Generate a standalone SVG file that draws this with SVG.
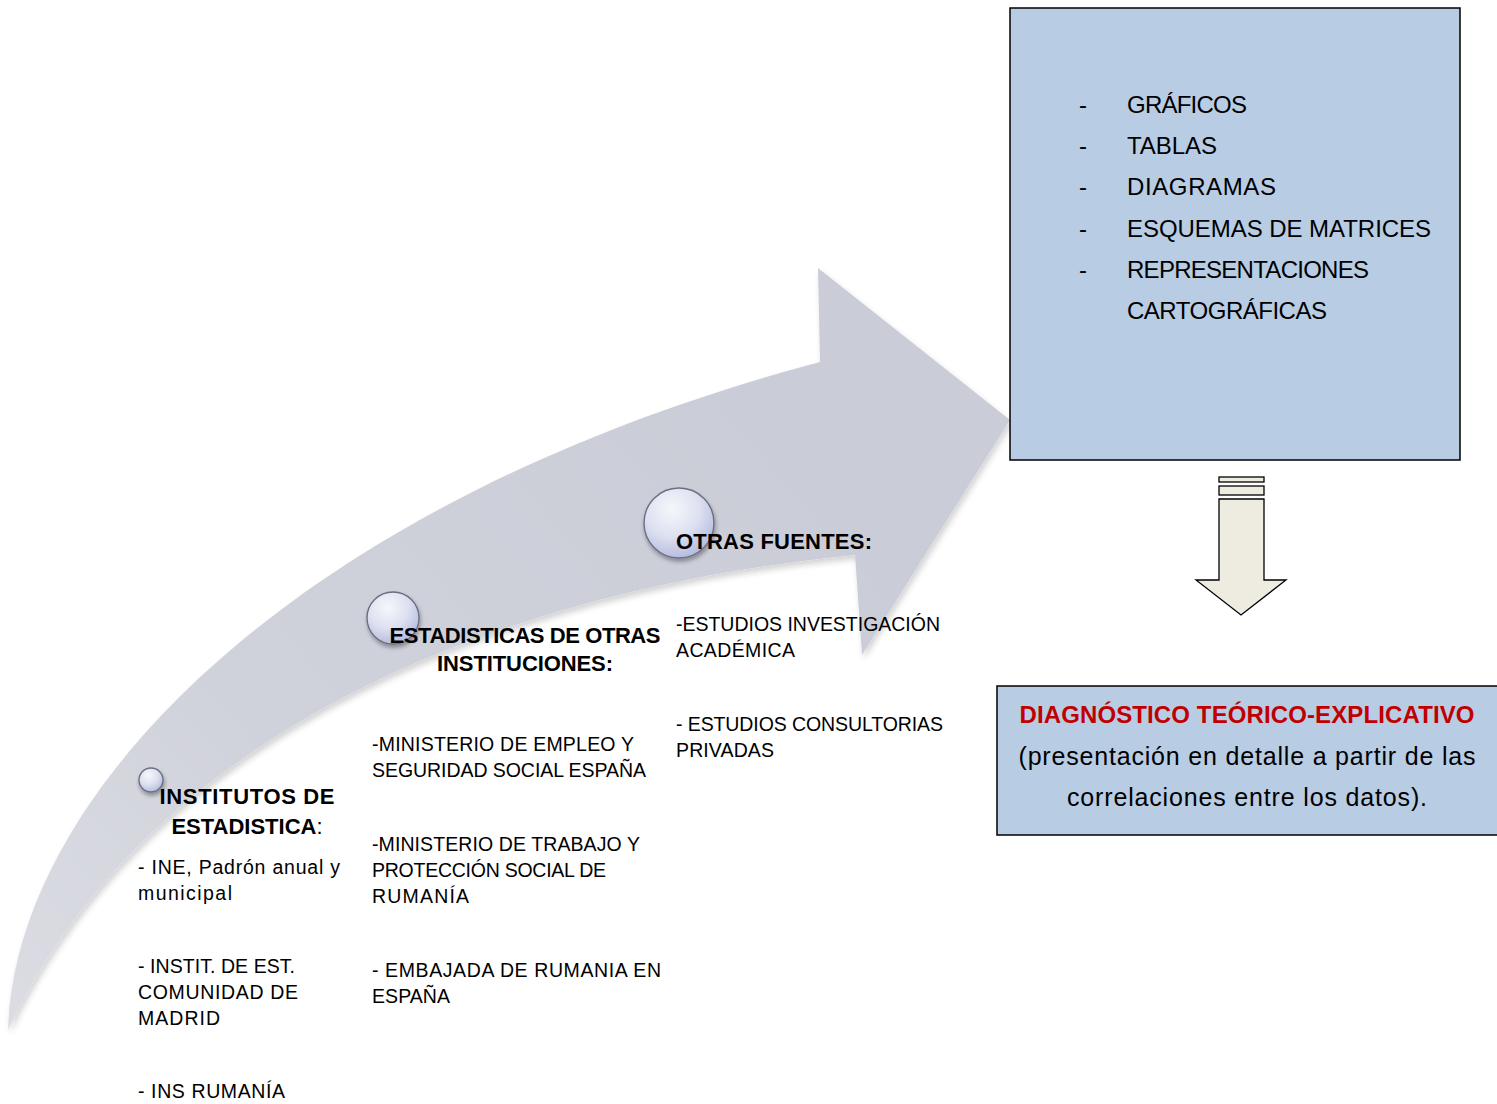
<svg xmlns="http://www.w3.org/2000/svg" width="1497" height="1104" viewBox="0 0 1497 1104">
<defs>
<linearGradient id="arrowGrad" gradientUnits="userSpaceOnUse" x1="0" y1="1040" x2="760" y2="380">
<stop offset="0" stop-color="#dcdde3"/>
<stop offset="0.4" stop-color="#d0d2db"/>
<stop offset="1" stop-color="#cacdd7"/>
</linearGradient>
<radialGradient id="circGrad" cx="0.4" cy="0.3" r="0.8">
<stop offset="0" stop-color="#f6f7fc"/>
<stop offset="0.5" stop-color="#dde0f0"/>
<stop offset="1" stop-color="#aab2da"/>
</radialGradient>
<filter id="sh" x="-30%" y="-30%" width="160%" height="160%">
<feGaussianBlur in="SourceAlpha" stdDeviation="2"/>
<feOffset dx="1" dy="3"/>
<feComponentTransfer><feFuncA type="linear" slope="0.35"/></feComponentTransfer>
<feMerge><feMergeNode/><feMergeNode in="SourceGraphic"/></feMerge>
</filter>
<filter id="ash" x="-10%" y="-10%" width="120%" height="120%">
<feGaussianBlur in="SourceAlpha" stdDeviation="3"/>
<feOffset dx="2" dy="4"/>
<feComponentTransfer><feFuncA type="linear" slope="0.18"/></feComponentTransfer>
<feMerge><feMergeNode/><feMergeNode in="SourceGraphic"/></feMerge>
</filter>
<style>
text{font-family:"Liberation Sans",Arial,sans-serif;fill:#000}
.b{font-size:19.5px}
.h{font-size:22px;font-weight:bold}
.l{font-size:24px}
.circ{fill:url(#circGrad);stroke:#6a6f82;stroke-width:1.4}
.box{fill:#b8cce4;stroke:#000;stroke-width:1.5}
</style>
</defs>

<g id="bigArrow">
<path d="M8,1030 C15,790 300,500 820,362 L818,268 L1010,420 L862,655 L855,555 C500,590 150,730 8,1030 Z" fill="url(#arrowGrad)" filter="url(#ash)"/>
</g>

<g id="node-institutos">
<circle class="circ" cx="151" cy="780" r="12" filter="url(#sh)"/>
<text class="h" x="247" y="804" text-anchor="middle" textLength="175">INSTITUTOS DE</text>
<text class="h" x="247" y="834" text-anchor="middle">ESTADISTICA<tspan font-weight="normal">:</tspan></text>
<text class="b" x="138" y="874" textLength="202">- INE, Padrón anual y</text>
<text class="b" x="138" y="900" textLength="94">municipal</text>
<text class="b" x="138" y="973" textLength="157">- INSTIT. DE EST.</text>
<text class="b" x="138" y="999" textLength="160">COMUNIDAD DE</text>
<text class="b" x="138" y="1025" textLength="82">MADRID</text>
<text class="b" x="138" y="1098" textLength="147">- INS RUMANÍA</text>
</g>

<g id="node-estadisticas">
<circle class="circ" cx="393" cy="618" r="26" filter="url(#sh)"/>
<text class="h" x="525" y="643" text-anchor="middle" textLength="271">ESTADISTICAS DE OTRAS</text>
<text class="h" x="525" y="671" text-anchor="middle" textLength="176">INSTITUCIONES:</text>
<text class="b" x="372" y="751" textLength="262">-MINISTERIO DE EMPLEO Y</text>
<text class="b" x="372" y="777" textLength="274">SEGURIDAD SOCIAL ESPAÑA</text>
<text class="b" x="372" y="851" textLength="268">-MINISTERIO DE TRABAJO Y</text>
<text class="b" x="372" y="877" textLength="234">PROTECCIÓN SOCIAL DE</text>
<text class="b" x="372" y="903" textLength="97">RUMANÍA</text>
<text class="b" x="372" y="977" textLength="289">- EMBAJADA DE RUMANIA EN</text>
<text class="b" x="372" y="1003" textLength="78">ESPAÑA</text>
</g>

<g id="node-otras">
<circle class="circ" cx="679" cy="523" r="35" filter="url(#sh)"/>
<text class="h" x="676" y="549" textLength="196">OTRAS FUENTES:</text>
<text class="b" x="676" y="631" textLength="264">-ESTUDIOS INVESTIGACIÓN</text>
<text class="b" x="676" y="657" textLength="119">ACADÉMICA</text>
<text class="b" x="676" y="731" textLength="267">- ESTUDIOS CONSULTORIAS</text>
<text class="b" x="676" y="757" textLength="98">PRIVADAS</text>
</g>

<g id="node-outputs">
<rect class="box" x="1010" y="8" width="450" height="452"/>
<text class="l" x="1079" y="113">-</text>
<text class="l" x="1079" y="154">-</text>
<text class="l" x="1079" y="195">-</text>
<text class="l" x="1079" y="237">-</text>
<text class="l" x="1079" y="278">-</text>
<text class="l" x="1127" y="113" textLength="120">GRÁFICOS</text>
<text class="l" x="1127" y="154" textLength="90">TABLAS</text>
<text class="l" x="1127" y="195" textLength="149">DIAGRAMAS</text>
<text class="l" x="1127" y="237" textLength="304">ESQUEMAS DE MATRICES</text>
<text class="l" x="1127" y="278" textLength="242">REPRESENTACIONES</text>
<text class="l" x="1127" y="319" textLength="200">CARTOGRÁFICAS</text>
</g>

<g id="connectors">
<g fill="#eeece1" stroke="#000" stroke-width="1.3">
<rect x="1219" y="477" width="45" height="5"/>
<rect x="1219" y="486" width="45" height="9"/>
<path d="M1219,499 L1264,499 L1264,580 L1286,580 L1241,615 L1196,580 L1219,580 Z"/>
</g>
</g>

<g id="node-diagnostico">
<rect class="box" x="997" y="686" width="510" height="149"/>
<text x="1247" y="723" text-anchor="middle" font-size="24" font-weight="bold" style="fill:#c00000" textLength="455">DIAGNÓSTICO TEÓRICO-EXPLICATIVO</text>
<text x="1247" y="765" text-anchor="middle" font-size="25" textLength="457">(presentación en detalle a partir de las</text>
<text x="1247" y="806" text-anchor="middle" font-size="25" textLength="360">correlaciones entre los datos).</text>
</g>
</svg>
